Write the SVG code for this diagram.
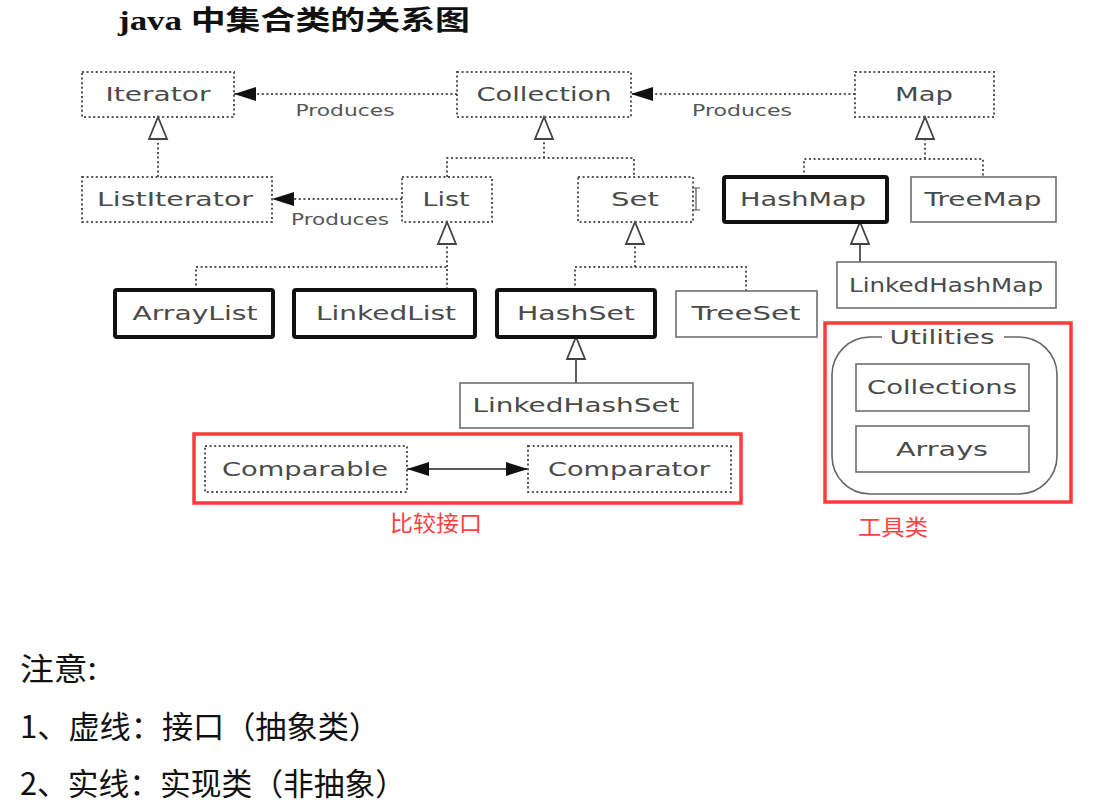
<svg xmlns="http://www.w3.org/2000/svg" width="1102" height="803" viewBox="0 0 1102 803">
<style>
.dot{fill:none;stroke:#555;stroke-width:2;stroke-dasharray:2 2.6}
.bold{fill:none;stroke:#111;stroke-width:4}
.thin{fill:none;stroke:#6e6e6e;stroke-width:1.6}
.red{fill:none;stroke:#ff3b3b;stroke-width:3.5}
.t{font-family:"DejaVu Sans","Liberation Sans",sans-serif;font-size:19px;fill:#4a4a4a;text-anchor:middle}
.p{font-family:"DejaVu Sans","Liberation Sans",sans-serif;font-size:16px;fill:#555;text-anchor:middle}
.rt{font-family:"Noto Sans CJK SC",sans-serif;font-size:22px;fill:#ff4040}
.n{font-family:"Noto Sans CJK SC",sans-serif;font-size:31px;fill:#111}
.solid{fill:none;stroke:#444;stroke-width:1.7}
</style>
<defs>
<marker id="hollow" markerUnits="userSpaceOnUse" viewBox="-2 -2 26 22" refX="22" refY="9" markerWidth="26" markerHeight="22" orient="auto">
<path d="M0,0 L22,9 L0,18 Z" fill="#fff" stroke="#444" stroke-width="1.8"/>
</marker>
<marker id="filled" markerUnits="userSpaceOnUse" viewBox="0 0 22 14" refX="22" refY="7" markerWidth="22" markerHeight="14" orient="auto-start-reverse">
<path d="M0,0 L22,7 L0,14 Z" fill="#111"/>
</marker>
</defs>
<rect width="1102" height="803" fill="#fff"/>
<text x="118" y="30" font-family="'Liberation Serif','Noto Sans CJK SC',serif" font-size="27" font-weight="bold" fill="#111" textLength="352" lengthAdjust="spacingAndGlyphs">java 中集合类的关系图</text>

<g id="connectors">
<path class="dot" d="M457 94 H234" marker-end="url(#filled)"/>
<path class="dot" d="M855 94 H631" marker-end="url(#filled)"/>
<path class="dot" d="M402 199 H272" marker-end="url(#filled)"/>
<path d="M407 469 H528" stroke="#222" stroke-width="1.6" fill="none" marker-start="url(#filled)" marker-end="url(#filled)"/>
<path class="dot" d="M158 177 V117" marker-end="url(#hollow)"/>
<path class="dot" d="M447 177 V158 H634 V177"/>
<path class="dot" d="M544 158 V117" marker-end="url(#hollow)"/>
<path class="dot" d="M804 177 V159 H983 V177"/>
<path class="dot" d="M925 159 V117" marker-end="url(#hollow)"/>
<path class="dot" d="M196 290 V267 H447 V290"/>
<path class="dot" d="M447 267 V222" marker-end="url(#hollow)"/>
<path class="dot" d="M575 290 V267 H746 V291"/>
<path class="dot" d="M635 267 V222" marker-end="url(#hollow)"/>
<path class="solid" d="M860 262 V222" marker-end="url(#hollow)"/>
<path class="solid" d="M576 383 V337" marker-end="url(#hollow)"/>
<text class="p" x="345" y="116" textLength="99" lengthAdjust="spacingAndGlyphs">Produces</text>
<text class="p" x="742" y="116" textLength="100" lengthAdjust="spacingAndGlyphs">Produces</text>
<text class="p" x="340" y="225" textLength="98" lengthAdjust="spacingAndGlyphs">Produces</text>
</g>

<g id="Iterator"><rect class="dot" x="82" y="72" width="152" height="45"/><text class="t" x="158" y="101" textLength="105" lengthAdjust="spacingAndGlyphs">Iterator</text></g>
<g id="Collection"><rect class="dot" x="457" y="72" width="174" height="45"/><text class="t" x="544" y="101" textLength="135" lengthAdjust="spacingAndGlyphs">Collection</text></g>
<g id="Map"><rect class="dot" x="855" y="72" width="139" height="45"/><text class="t" x="924" y="101" textLength="58" lengthAdjust="spacingAndGlyphs">Map</text></g>
<g id="ListIterator"><rect class="dot" x="82" y="177" width="190" height="45"/><text class="t" x="175" y="206" textLength="156" lengthAdjust="spacingAndGlyphs">ListIterator</text></g>
<g id="List"><rect class="dot" x="402" y="177" width="90" height="45"/><text class="t" x="446" y="206" textLength="47" lengthAdjust="spacingAndGlyphs">List</text></g>
<g id="Set"><rect class="dot" x="578" y="177" width="115" height="45"/><text class="t" x="635" y="206" textLength="48" lengthAdjust="spacingAndGlyphs">Set</text><path d="M692 188 H700 M696 188 V210 M692 210 H700" stroke="#555" stroke-width="1.2" fill="none"/></g>
<g id="HashMap"><rect class="bold" x="724" y="177" width="163" height="45" rx="2"/><text class="t" x="803" y="206" textLength="126" lengthAdjust="spacingAndGlyphs">HashMap</text></g>
<g id="TreeMap"><rect class="thin" x="911" y="177" width="145" height="45"/><text class="t" x="983" y="206" textLength="117" lengthAdjust="spacingAndGlyphs">TreeMap</text></g>
<g id="LinkedHashMap"><rect class="thin" x="837" y="262" width="219" height="46"/><text class="t" x="946" y="292" textLength="194" lengthAdjust="spacingAndGlyphs">LinkedHashMap</text></g>
<g id="ArrayList"><rect class="bold" x="115" y="290" width="158" height="47" rx="2"/><text class="t" x="195" y="320" textLength="125" lengthAdjust="spacingAndGlyphs">ArrayList</text></g>
<g id="LinkedList"><rect class="bold" x="294" y="290" width="181" height="47" rx="2"/><text class="t" x="386" y="320" textLength="140" lengthAdjust="spacingAndGlyphs">LinkedList</text></g>
<g id="HashSet"><rect class="bold" x="497" y="290" width="158" height="47" rx="2"/><text class="t" x="576" y="320" textLength="118" lengthAdjust="spacingAndGlyphs">HashSet</text></g>
<g id="TreeSet"><rect class="thin" x="676" y="291" width="141" height="46"/><text class="t" x="746" y="320" textLength="109" lengthAdjust="spacingAndGlyphs">TreeSet</text></g>
<g id="LinkedHashSet"><rect class="thin" x="460" y="383" width="233" height="45"/><text class="t" x="576" y="412" textLength="207" lengthAdjust="spacingAndGlyphs">LinkedHashSet</text></g>

<g id="comparison">
<rect class="red" x="194" y="434" width="547" height="69"/>
<rect class="dot" x="205" y="446" width="202" height="46"/><text class="t" x="305" y="476" textLength="166" lengthAdjust="spacingAndGlyphs">Comparable</text>
<rect class="dot" x="528" y="446" width="203" height="46"/><text class="t" x="629" y="476" textLength="162" lengthAdjust="spacingAndGlyphs">Comparator</text>
<text class="rt" x="390" y="531" textLength="92" lengthAdjust="spacingAndGlyphs">比较接口</text>
</g>

<g id="utilities">
<rect class="red" x="825" y="323" width="246" height="179"/>
<path d="M882 337 H870 A38 38 0 0 0 832 375 V456 A38 38 0 0 0 870 494 H1019 A38 38 0 0 0 1057 456 V375 A38 38 0 0 0 1019 337 H1004" fill="none" stroke="#666" stroke-width="1.6"/>
<text class="t" x="942" y="344" textLength="105" lengthAdjust="spacingAndGlyphs">Utilities</text>
<rect class="thin" x="856" y="364" width="173" height="47"/><text class="t" x="942" y="394" textLength="150" lengthAdjust="spacingAndGlyphs">Collections</text>
<rect class="thin" x="856" y="426" width="173" height="46"/><text class="t" x="942" y="456" textLength="92" lengthAdjust="spacingAndGlyphs">Arrays</text>
<text class="rt" x="858" y="535" textLength="70" lengthAdjust="spacingAndGlyphs">工具类</text>
</g>

<g id="notes">
<text class="n" x="20" y="680" textLength="77" lengthAdjust="spacingAndGlyphs">注意:</text>
<text class="n" x="20" y="738" textLength="360" lengthAdjust="spacingAndGlyphs">1、虚线：接口（抽象类）</text>
<text class="n" x="20" y="795" textLength="386" lengthAdjust="spacingAndGlyphs">2、实线：实现类（非抽象）</text>
</g>
</svg>
